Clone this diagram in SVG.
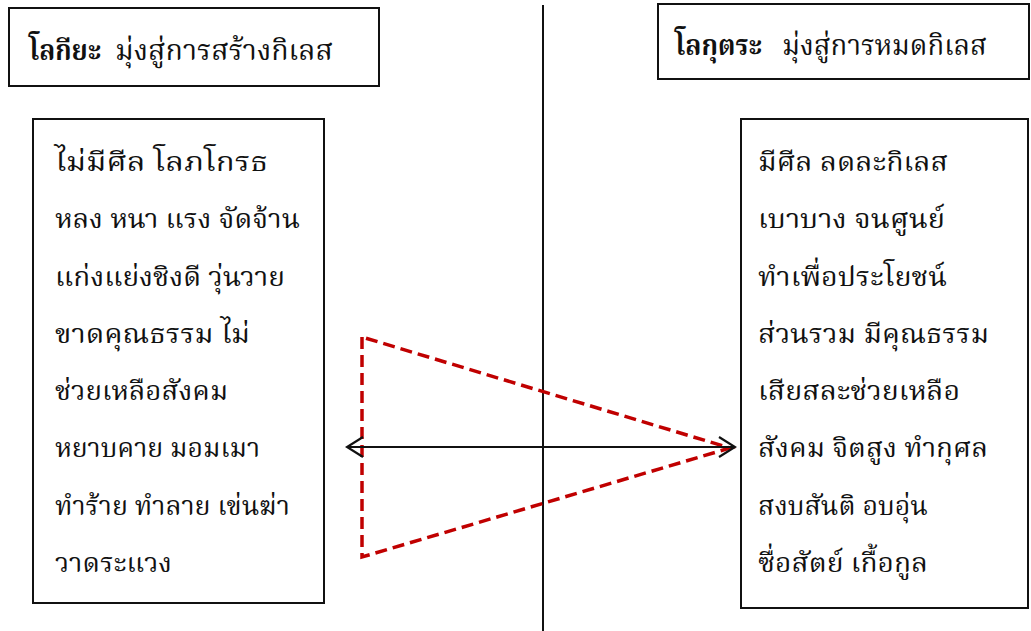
<svg xmlns="http://www.w3.org/2000/svg" width="1031" height="631" viewBox="0 0 1031 631">
<defs>
<style>
.box{fill:#fff;stroke:#111;stroke-width:2}
.t{font-family:"Angsana New","TH Sarabun New","Norasi","Kinnari","Noto Serif Thai","Noto Sans Thai","Liberation Serif","DejaVu Serif",serif;font-size:27px;fill:#111}
.h{font-family:"Angsana New","TH Sarabun New","Norasi","Kinnari","Noto Serif Thai","Noto Sans Thai","Liberation Serif","DejaVu Serif",serif;font-size:29px;fill:#111}
.b{font-weight:bold}
.ln{stroke:#111;stroke-width:2;fill:none}
.tri{stroke:#C00000;stroke-width:3.5;stroke-dasharray:12 6;fill:none}
</style>
<marker id="open" viewBox="0 0 20 24" refX="18" refY="12" markerWidth="20" markerHeight="24" markerUnits="userSpaceOnUse" orient="auto-start-reverse">
<path d="M2,2 L18,12 L2,22" fill="none" stroke="#111" stroke-width="2.2"/>
</marker>
</defs>
<rect width="1031" height="631" fill="#fff"/>
<g id="divider"><line class="ln" x1="543" y1="5" x2="543" y2="631"/></g>
<g id="header-left">
<rect class="box" x="9" y="8" width="370" height="78"/>
<text class="h b" x="29" y="60" textLength="72" lengthAdjust="spacingAndGlyphs">โลกียะ</text>
<text class="h" x="115" y="60" textLength="218" lengthAdjust="spacingAndGlyphs">มุ่งสู่การสร้างกิเลส</text>
</g>
<g id="header-right">
<rect class="box" x="658" y="4" width="371" height="75"/>
<text class="h b" x="675" y="55" textLength="87" lengthAdjust="spacingAndGlyphs">โลกุตระ</text>
<text class="h" x="782" y="55" textLength="205" lengthAdjust="spacingAndGlyphs">มุ่งสู่การหมดกิเลส</text>
</g>
<g id="box-left">
<rect class="box" x="33" y="119" width="291" height="484"/>
<text class="t" x="55" y="171" textLength="213" lengthAdjust="spacingAndGlyphs">ไม่มีศีล โลภโกรธ</text>
<text class="t" x="55" y="228" textLength="245" lengthAdjust="spacingAndGlyphs">หลง หนา แรง จัดจ้าน</text>
<text class="t" x="55" y="286" textLength="230" lengthAdjust="spacingAndGlyphs">แก่งแย่งชิงดี วุ่นวาย</text>
<text class="t" x="55" y="343" textLength="195" lengthAdjust="spacingAndGlyphs">ขาดคุณธรรม ไม่</text>
<text class="t" x="55" y="400" textLength="173" lengthAdjust="spacingAndGlyphs">ช่วยเหลือสังคม</text>
<text class="t" x="55" y="457" textLength="205" lengthAdjust="spacingAndGlyphs">หยาบคาย มอมเมา</text>
<text class="t" x="55" y="515" textLength="235" lengthAdjust="spacingAndGlyphs">ทำร้าย ทำลาย เข่นฆ่า</text>
<text class="t" x="55" y="572" textLength="117" lengthAdjust="spacingAndGlyphs">วาดระแวง</text>
</g>
<g id="box-right">
<rect class="box" x="741" y="119" width="287" height="489"/>
<text class="t" x="758" y="171" textLength="190" lengthAdjust="spacingAndGlyphs">มีศีล ลดละกิเลส</text>
<text class="t" x="758" y="228" textLength="187" lengthAdjust="spacingAndGlyphs">เบาบาง จนศูนย์</text>
<text class="t" x="758" y="286" textLength="189" lengthAdjust="spacingAndGlyphs">ทำเพื่อประโยชน์</text>
<text class="t" x="758" y="343" textLength="231" lengthAdjust="spacingAndGlyphs">ส่วนรวม มีคุณธรรม</text>
<text class="t" x="758" y="400" textLength="202" lengthAdjust="spacingAndGlyphs">เสียสละช่วยเหลือ</text>
<text class="t" x="758" y="457" textLength="230" lengthAdjust="spacingAndGlyphs">สังคม จิตสูง ทำกุศล</text>
<text class="t" x="758" y="515" textLength="170" lengthAdjust="spacingAndGlyphs">สงบสันติ อบอุ่น</text>
<text class="t" x="758" y="572" textLength="170" lengthAdjust="spacingAndGlyphs">ซื่อสัตย์ เกื้อกูล</text>
</g>
<g id="connectors">
<polygon class="tri" points="362,337 362,557 730,448"/>
<line class="ln" x1="347" y1="447" x2="735" y2="447" marker-start="url(#open)" marker-end="url(#open)"/>
</g>
</svg>
